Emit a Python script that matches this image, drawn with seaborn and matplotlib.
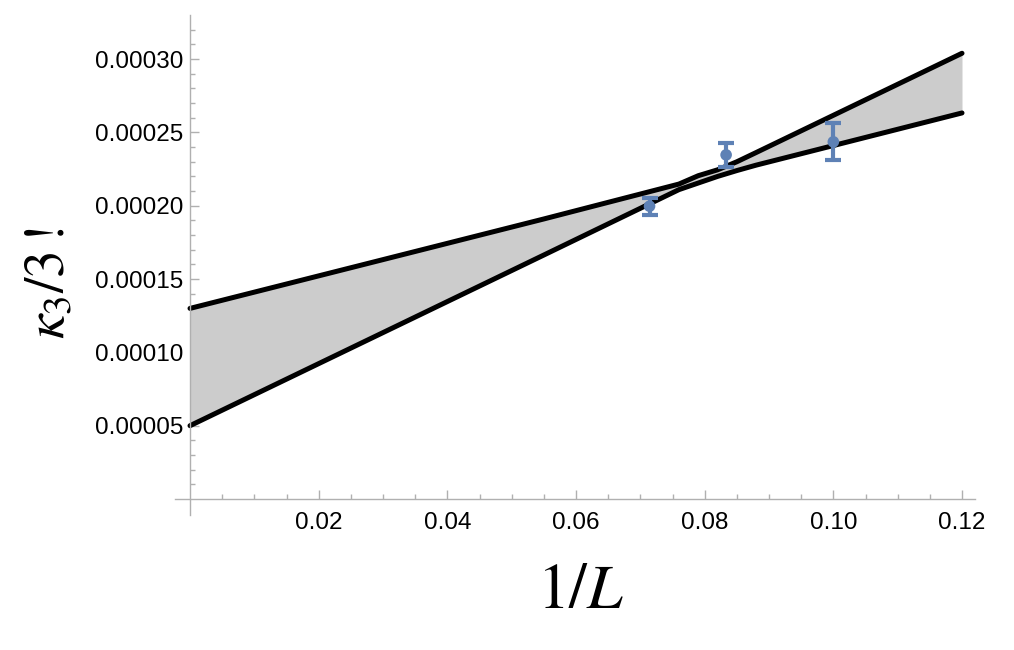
import numpy as np
import matplotlib
matplotlib.use("Agg")
import matplotlib.pyplot as plt
from matplotlib.ticker import FixedLocator
import seaborn as sns

# band (upper and lower edges on a shared x grid)
band_x = [0.0, 0.055, 0.076, 0.079, 0.082, 0.085, 0.088, 0.12]
band_upper = [0.000130, 0.000191, 0.0002148, 0.0002205, 0.0002245, 0.000230, 0.0002363, 0.000304]
band_lower = [0.000050, 0.0001664, 0.000211, 0.0002155, 0.000220, 0.000224, 0.0002277, 0.0002633]

# data points with error bars
inv_L = [1 / 14, 1 / 12, 1 / 10]
kappa = [0.0001997, 0.0002347, 0.0002436]
kappa_err = [0.0000058, 0.0000082, 0.0000126]

x_ticks = [0.02, 0.04, 0.06, 0.08, 0.10, 0.12]
x_labels = ["0.02", "0.04", "0.06", "0.08", "0.10", "0.12"]
y_ticks = [0.00005, 0.00010, 0.00015, 0.00020, 0.00025, 0.00030]
y_labels = ["0.00005", "0.00010", "0.00015", "0.00020", "0.00025", "0.00030"]


def main():
    sns.set_style("white")
    plt.rcParams["font.family"] = ["Liberation Sans", "DejaVu Sans"]
    plt.rcParams["mathtext.fontset"] = "stix"

    fig = plt.figure(figsize=(10.14, 6.5), dpi=100)
    ax = fig.add_axes([0.1726, 0.2077, 0.789, 0.769])

    ax.fill_between(band_x, band_lower, band_upper, color="#cccccc", lw=0)
    sns.lineplot(x=band_x, y=band_upper, color="black", lw=3.6, ax=ax,
                 sort=False, estimator=None)
    sns.lineplot(x=band_x, y=band_lower, color="black", lw=3.6, ax=ax,
                 sort=False, estimator=None)

    blue = "#5e81b5"
    ax.errorbar(inv_L, kappa, yerr=kappa_err, fmt="none", ecolor=blue,
                elinewidth=3.0, capsize=5.5, capthick=3.0, zorder=4)
    sns.scatterplot(x=inv_L, y=kappa, color=blue, s=70, edgecolor="none",
                    ax=ax, zorder=5)

    ax.set_xlim(-0.00233, 0.12203)
    ax.set_ylim(-0.0000109, 0.00033)

    # Mathematica-style axes crossing at the origin
    for side in ["top", "right"]:
        ax.spines[side].set_visible(False)
    ax.spines["left"].set_position(("data", 0))
    ax.spines["bottom"].set_position(("data", 0))
    for side in ["left", "bottom"]:
        ax.spines[side].set_color("#b0b0b0")
        ax.spines[side].set_linewidth(1.0)

    ax.xaxis.set_major_locator(FixedLocator(x_ticks))
    ax.set_xticklabels(x_labels)
    ax.yaxis.set_major_locator(FixedLocator(y_ticks))
    ax.set_yticklabels(y_labels)
    ax.xaxis.set_minor_locator(FixedLocator(np.arange(0.005, 0.1201, 0.005)))
    ax.yaxis.set_minor_locator(FixedLocator(np.arange(0.00001, 0.000321, 0.00001)))

    ax.tick_params(which="both", direction="in", color="#b0b0b0", width=1.0,
                   bottom=True, left=True, labelsize=17.5, labelcolor="black")
    ax.tick_params(which="major", length=6.5)
    ax.tick_params(which="minor", length=3.5)
    ax.tick_params(axis="x", which="major", pad=9)
    ax.tick_params(axis="y", which="major", pad=5)
    ax.grid(False)

    fig.text(0.573, 0.091, r"$1/L$", fontsize=46, ha="center", va="center",
             color="black")
    fig.text(0.049, 0.565, r"$\kappa_3/3\,!$", fontsize=40, ha="center",
             va="center", rotation=90, color="black")

    fig.savefig("out.png", dpi=100)
    plt.close(fig)


if __name__ == "__main__":
    main()
